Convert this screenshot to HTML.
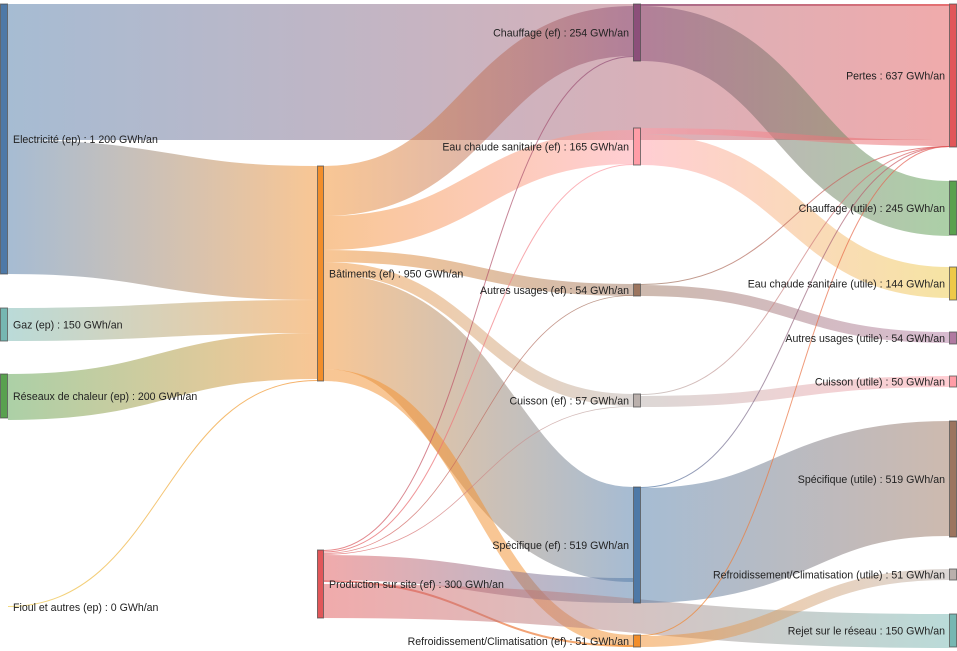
<!DOCTYPE html>
<html><head><meta charset="utf-8"><style>
html,body{margin:0;padding:0;background:#fff;}
svg{display:block;font-family:"Liberation Sans",Arial,sans-serif;font-size:10.6px;}
</style></head><body>
<svg id="s" width="957" height="651" xmlns="http://www.w3.org/2000/svg"><defs id="d"></defs><g id="links"></g><g id="nodes"></g><g id="labels"></g></svg>
<script>
var NS="http://www.w3.org/2000/svg";
var C={el:"#4e79a7",gaz:"#76b7b2",rc:"#59a14f",fi:"#edc948",bat:"#f28e2b",pr:"#e15759",
ch:"#8c4f7a",ecs:"#ff9da7",au:"#9c755f",cu:"#bab0ac",sp:"#4e79a7",re:"#f28e2b",
pe:"#e15759",chu:"#59a14f",ecsu:"#edc948",auu:"#b07aa1",cuu:"#ff9da7",spu:"#9c755f",reu:"#bab0ac",rej:"#76b7b2"};
var X={1:[0,8],2:[317,324],3:[633,641],4:[949,957]};
var nodes=[
["el",1,4,274,"Electricité (ep) : 1 200 GWh/an"],
["gaz",1,308,341,"Gaz (ep) : 150 GWh/an"],
["rc",1,374,418,"Réseaux de chaleur (ep) : 200 GWh/an"],
["fi",1,607,607,"Fioul et autres (ep) : 0 GWh/an"],
["bat",2,166,381,"Bâtiments (ef) : 950 GWh/an"],
["pr",2,550,618,"Production sur site (ef) : 300 GWh/an"],
["ch",3,4,61,"Chauffage (ef) : 254 GWh/an"],
["ecs",3,128,165,"Eau chaude sanitaire (ef) : 165 GWh/an"],
["au",3,284,296,"Autres usages (ef) : 54 GWh/an"],
["cu",3,394,407,"Cuisson (ef) : 57 GWh/an"],
["sp",3,487,603,"Spécifique (ef) : 519 GWh/an"],
["re",3,635,647,"Refroidissement/Climatisation (ef) : 51 GWh/an"],
["pe",4,4,147,"Pertes : 637 GWh/an"],
["chu",4,181,235,"Chauffage (utile) : 245 GWh/an"],
["ecsu",4,267,300,"Eau chaude sanitaire (utile) : 144 GWh/an"],
["auu",4,332,344,"Autres usages (utile) : 54 GWh/an"],
["cuu",4,376,387,"Cuisson (utile) : 50 GWh/an"],
["spu",4,421,537,"Spécifique (utile) : 519 GWh/an"],
["reu",4,569,580,"Refroidissement/Climatisation (utile) : 51 GWh/an"],
["rej",4,614,647,"Rejet sur le réseau : 150 GWh/an"]];
var col={};nodes.forEach(function(n){col[n[0]]=n[1];});
var links=[
["el","pe",4,4,136],
["el","bat",140,166,134],
["gaz","bat",308,300,33],
["rc","bat",374,333,46],
["fi","bat",606,380,1],
["bat","ch",166,6,50],
["bat","ecs",216,130,34],
["bat","au",250,284,12],
["bat","cu",262,394,12],
["bat","sp",274,487,95],
["bat","re",369,635,12],
["pr","ch",550,56,1],
["pr","ecs",551.5,164,1],
["pr","au",553,295,0.8],
["pr","cu",554,406,0.8],
["pr","sp",555,578,25],
["pr","re",580,645,2],
["pr","rej",584,614,34],
["ch","pe",4,4,2],
["ch","chu",6,181,55],
["ecs","pe",128,140,6],
["ecs","ecsu",134,267,31],
["au","pe",284,146,1],
["au","auu",285,332,11],
["cu","pe",394,146,1],
["cu","cuu",396,376,11],
["sp","pe",487,146,1],
["sp","spu",488,421,115],
["re","pe",635,146,1],
["re","reu",636,569,11]];
var d=document.getElementById("d"),L=document.getElementById("links");
links.forEach(function(l,i){
 var a=X[col[l[0]]][1],b=X[col[l[1]]][0],w=l[4];
 var y0=l[2]+w/2,y1=l[3]+w/2,m=(a+b)/2;
 var g=document.createElementNS(NS,"linearGradient");
 g.setAttribute("id","g"+i);g.setAttribute("gradientUnits","userSpaceOnUse");
 g.setAttribute("x1",a);g.setAttribute("x2",b);g.setAttribute("y1",0);g.setAttribute("y2",0);
 g.innerHTML='<stop offset="0" stop-color="'+C[l[0]]+'"/><stop offset="1" stop-color="'+C[l[1]]+'"/>';
 d.appendChild(g);
 var p=document.createElementNS(NS,"path");
 p.setAttribute("d","M"+a+","+y0+"C"+m+","+y0+" "+m+","+y1+" "+b+","+y1);
 p.setAttribute("fill","none");p.setAttribute("stroke","url(#g"+i+")");
 p.setAttribute("stroke-width",w);p.setAttribute("stroke-opacity",w<3?0.7:0.5);
 L.appendChild(p);
});
var N=document.getElementById("nodes"),T=document.getElementById("labels");
nodes.forEach(function(n){
 var x=X[n[1]],h=Math.max(n[3]-n[2],0);
 if(h>0){var r=document.createElementNS(NS,"rect");
 r.setAttribute("x",x[0]+0.5);r.setAttribute("y",n[2]);r.setAttribute("width",x[1]-x[0]-1);r.setAttribute("height",h);
 r.setAttribute("fill",C[n[0]]);r.setAttribute("stroke","#444");r.setAttribute("stroke-opacity","0.7");N.appendChild(r);}
 var t=document.createElementNS(NS,"text");
 var yc=(n[2]+n[3])/2+4;
 if(n[1]<=2){t.setAttribute("x",x[1]+5);}else{t.setAttribute("x",x[0]-4);t.setAttribute("text-anchor","end");}
 t.setAttribute("y",yc);t.setAttribute("fill","#222");t.textContent=n[4];T.appendChild(t);
});
</script>
</body></html>
